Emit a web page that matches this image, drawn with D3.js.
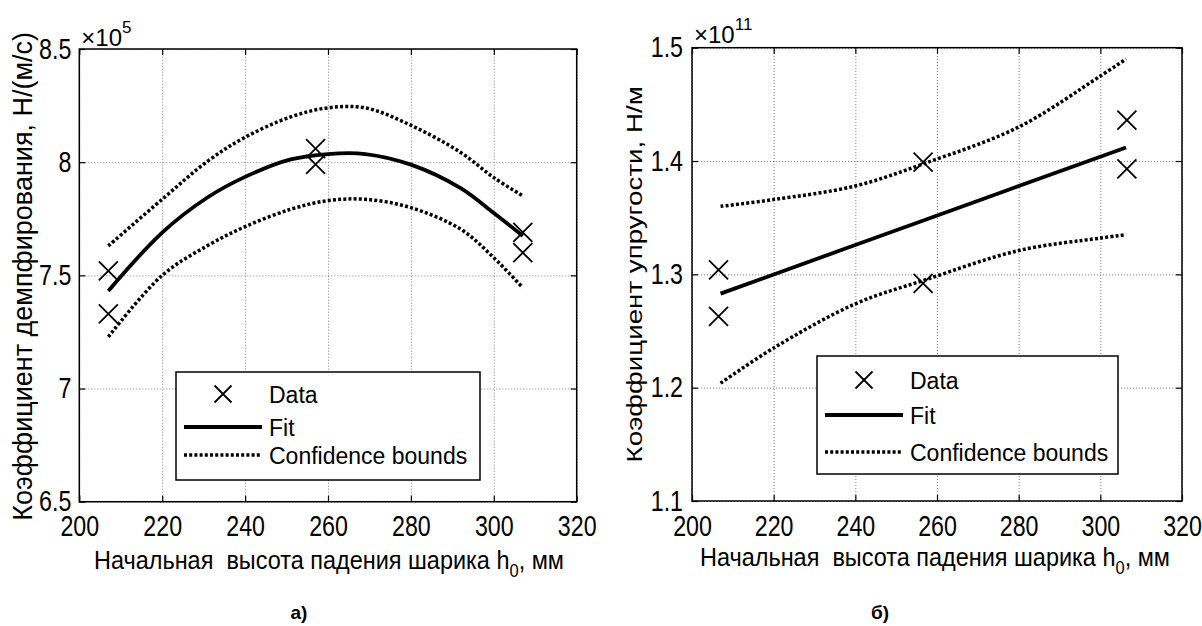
<!DOCTYPE html>
<html>
<head>
<meta charset="utf-8">
<script src="https://cdn.jsdelivr.net/npm/d3@7"></script>
<style>
  body { margin: 0; background: #fff; }
  svg { display: block; font-family: "Liberation Sans", Arial, sans-serif; }
  .grid line { stroke: #808080; stroke-width: 1; stroke-dasharray: 1,2; }
  .grid path, .ticks path, .labels path { display: none; }
  .ticks line { stroke: #000; stroke-width: 1.2; }
  .labels text { font-size: 29px; fill: #000; }
</style>
</head>
<body>
<svg id="chart" width="1202" height="626"></svg>
<script>
// shared x axis
var xTicks = [200, 220, 240, 260, 280, 300, 320];
var legendLabels = ['Data', 'Fit', 'Confidence bounds'];

// а) damping coefficient, x10^5 N/(m/s)
var dampTicks = [6.5, 7, 7.5, 8, 8.5];
var dampPtsX = [207, 207, 257, 257, 307, 307];
var dampPts = [7.52, 7.33, 8.06, 7.99, 7.69, 7.60];
var dampCurveX = [207, 220, 231, 240, 251, 260, 269, 280, 292, 300, 307];
var dampFit = [7.431, 7.689, 7.845, 7.935, 8.012, 8.036, 8.036, 7.989, 7.885, 7.775, 7.674];
var dampUpper = [7.630, 7.836, 8.005, 8.110, 8.200, 8.240, 8.240, 8.163, 8.043, 7.932, 7.851];
var dampLower = [7.228, 7.500, 7.632, 7.715, 7.792, 7.830, 7.836, 7.799, 7.704, 7.578, 7.445];

// б) stiffness coefficient, x10^11 N/m
var stiffTicks = [1.1, 1.2, 1.3, 1.4, 1.5];
var stiffPtsX = [206.5, 206.5, 256.6, 256.6, 306.5, 306.5];
var stiffPts = [1.304, 1.263, 1.399, 1.292, 1.436, 1.393];
var stiffFitX = [207, 257, 306.3];
var stiffFit = [1.283, 1.348, 1.412];
var stiffBoundX = [207, 220, 240, 257, 280, 300, 306.3];
var stiffUpper = [1.360, 1.366, 1.378, 1.398, 1.430, 1.475, 1.490];
var stiffLower = [1.204, 1.235, 1.274, 1.295, 1.321, 1.332, 1.335];

var svg = d3.select('#chart');

function zip(xs, ys) { return xs.map((v, i) => [v, ys[i]]); }

function drawX(g, cx, cy, r) {
    g.append('path')
        .attr('d', `M${cx - r},${cy - r}L${cx + r},${cy + r}M${cx - r},${cy + r}L${cx + r},${cy - r}`)
        .attr('stroke', '#000')
        .attr('stroke-width', 1.8)
        .attr('fill', 'none');
}

function drawPanel(cfg) {
    var g = svg.append('g');
    var x = d3.scaleLinear().domain([200, 320]).range([cfg.left, cfg.right]);
    var y = d3.scaleLinear().domain(d3.extent(cfg.yTicks)).range([cfg.bottom, cfg.top]);
    var h = cfg.bottom - cfg.top, w = cfg.right - cfg.left;

    // dotted grid
    g.append('g').attr('class', 'grid')
        .attr('transform', `translate(0,${cfg.bottom})`)
        .call(d3.axisBottom(x).tickValues(xTicks).tickSize(-h).tickFormat(''));
    g.append('g').attr('class', 'grid')
        .attr('transform', `translate(${cfg.left},0)`)
        .call(d3.axisLeft(y).tickValues(cfg.yTicks).tickSize(-w).tickFormat(''));

    // inward ticks on all four sides
    g.append('g').attr('class', 'ticks').attr('transform', `translate(0,${cfg.bottom})`)
        .call(d3.axisBottom(x).tickValues(xTicks).tickSize(-6).tickFormat(''));
    g.append('g').attr('class', 'ticks').attr('transform', `translate(0,${cfg.top})`)
        .call(d3.axisTop(x).tickValues(xTicks).tickSize(-6).tickFormat(''));
    g.append('g').attr('class', 'ticks').attr('transform', `translate(${cfg.left},0)`)
        .call(d3.axisLeft(y).tickValues(cfg.yTicks).tickSize(-6).tickFormat(''));
    g.append('g').attr('class', 'ticks').attr('transform', `translate(${cfg.right},0)`)
        .call(d3.axisRight(y).tickValues(cfg.yTicks).tickSize(-6).tickFormat(''));

    g.append('rect')
        .attr('x', cfg.left).attr('y', cfg.top)
        .attr('width', w).attr('height', h)
        .attr('fill', 'none').attr('stroke', '#000').attr('stroke-width', 1.5);

    // tick labels (narrow face)
    var bx = g.append('g').attr('class', 'labels')
        .attr('transform', `translate(0,${cfg.bottom})`)
        .call(d3.axisBottom(x).tickValues(xTicks).tickSize(0).tickPadding(14));
    bx.selectAll('text').attr('transform', 'scale(0.8,1)');
    var ly = g.append('g').attr('class', 'labels')
        .attr('transform', `translate(${cfg.left},0)`)
        .call(d3.axisLeft(y).tickValues(cfg.yTicks).tickSize(0).tickFormat(d => String(d)));
    ly.selectAll('text')
        .attr('x', -cfg.yPad / 0.8)
        .attr('transform', 'scale(0.8,1)');

    // exponent
    var ex = g.append('text')
        .attr('x', cfg.left + 2).attr('y', cfg.expY)
        .style('font-size', '24px');
    ex.append('tspan').text('×10');
    ex.append('tspan').attr('dy', -13).style('font-size', '17px').text(cfg.exponent);

    // curves
    var line = d3.line()
        .x(d => x(d[0])).y(d => y(d[1]))
        .curve(d3.curveCatmullRom.alpha(0.5));
    [cfg.upper, cfg.lower].forEach(b => {
        g.append('path')
            .attr('d', line(zip(cfg.boundX, b)))
            .attr('fill', 'none').attr('stroke', '#000')
            .attr('stroke-width', 3.5).attr('stroke-dasharray', '3,2.2');
    });
    g.append('path')
        .attr('d', line(zip(cfg.fitX, cfg.fit)))
        .attr('fill', 'none').attr('stroke', '#000').attr('stroke-width', 3.8);

    zip(cfg.ptsX, cfg.pts).forEach(p => drawX(g, x(p[0]), y(p[1]), 9.5));

    // legend
    var L = cfg.legend;
    g.append('rect')
        .attr('x', L.x).attr('y', L.y).attr('width', L.w).attr('height', L.h)
        .attr('fill', '#fff').attr('stroke', '#000').attr('stroke-width', 1.5);
    drawX(g, L.x + 47, L.rows[0], 8.5);
    g.append('line')
        .attr('x1', L.x + 8).attr('x2', L.x + 86)
        .attr('y1', L.rows[1]).attr('y2', L.rows[1])
        .attr('stroke', '#000').attr('stroke-width', 3.8);
    g.append('line')
        .attr('x1', L.x + 8).attr('x2', L.x + 86)
        .attr('y1', L.rows[2]).attr('y2', L.rows[2])
        .attr('stroke', '#000').attr('stroke-width', 3.5).attr('stroke-dasharray', '3,2.2');
    legendLabels.forEach((t, i) => {
        g.append('text')
            .attr('x', L.x + 93).attr('y', L.rows[i] + 9)
            .style('font-size', '23px')
            .text(t);
    });

    // y label
    g.append('text')
        .attr('transform', `translate(${cfg.yLabelX},${(cfg.top + cfg.bottom) / 2 + cfg.yLabelDy}) rotate(-90) scale(${cfg.yLabelScale},1)`)
        .attr('text-anchor', 'middle')
        .style('font-size', cfg.yLabelSize + 'px')
        .text(cfg.yLabel);

    // x label
    var xl = g.append('text')
        .attr('transform', `translate(${cfg.xLabelX},${cfg.xLabelY}) scale(0.92,1)`)
        .style('font-size', '25.5px')
        .style('white-space', 'pre');
    xl.append('tspan').text('Начальная  высота падения шарика h');
    xl.append('tspan').attr('dy', 8).style('font-size', '18px').text('0');
    xl.append('tspan').attr('dy', -8).text(', мм');

    g.append('text')
        .attr('x', cfg.captionX).attr('y', 619)
        .attr('text-anchor', 'middle')
        .style('font-size', '19px').style('font-weight', 'bold')
        .text(cfg.caption);
}

drawPanel({
    left: 79.3, right: 576.7, top: 49, bottom: 501.7,
    yTicks: dampTicks, yPad: 8, exponent: '5', expY: 46,
    ptsX: dampPtsX, pts: dampPts,
    fitX: dampCurveX, fit: dampFit,
    boundX: dampCurveX, upper: dampUpper, lower: dampLower,
    legend: { x: 176, y: 372, w: 304, h: 108, rows: [394, 427, 455] },
    yLabel: 'Коэффициент демпфирования, Н/(м/с)',
    yLabelX: 32, yLabelDy: 1, yLabelSize: 27, yLabelScale: 1,
    xLabelX: 94, xLabelY: 569,
    caption: 'а)', captionX: 299
});

drawPanel({
    left: 692, right: 1182, top: 47.7, bottom: 501,
    yTicks: stiffTicks, yPad: 9, exponent: '11', expY: 43,
    ptsX: stiffPtsX, pts: stiffPts,
    fitX: stiffFitX, fit: stiffFit,
    boundX: stiffBoundX, upper: stiffUpper, lower: stiffLower,
    legend: { x: 817, y: 356, w: 301, h: 118, rows: [380, 415, 452] },
    yLabel: 'Коэффициент упругости, Н/м',
    yLabelX: 641.5, yLabelDy: 0, yLabelSize: 22, yLabelScale: 1.26,
    xLabelX: 700, xLabelY: 566,
    caption: 'б)', captionX: 880
});
</script>
</body>
</html>
